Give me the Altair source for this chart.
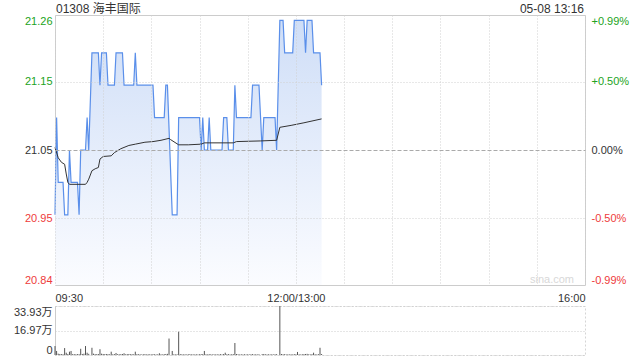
import altair as alt
import pandas as pd

# ---------------- data ----------------
title_left = "01308 海丰国际"
title_right = "05-08 13:16"
watermark = "sina.com"

base_price = 21.05
price_domain = [20.8416, 21.2584]          # base ±0.99%
price_ticks = [20.8416, 20.945, 21.05, 21.155, 21.2584]
price_tick_labels = ["20.84", "20.95", "21.05", "21.15", "21.26"]
pct_tick_labels = ["-0.99%", "-0.50%", "0.00%", "+0.50%", "+0.99%"]

time_ticks = [0, 30, 60, 90, 120, 150, 180, 210, 240, 270, 300, 330]
time_label_pos = [0, 150, 330]
time_labels = ["09:30", "12:00/13:00", "16:00"]

vol_ticks = [0, 169650, 339300]
vol_tick_labels = ["0", "16.97万", "33.93万"]

# minute index (0 = 09:30, 150 = 12:00/13:00) and last price per minute
minutes = list(range(167))
prices = [
    20.95, 21.10, 21.00, 21.00, 21.00, 21.00, 20.95, 20.95, 20.95, 21.05,
    21.00, 21.00, 21.00, 21.00, 21.00, 20.95, 21.05, 21.05, 21.05, 21.05,
    21.10, 21.05, None, 21.20, 21.20, 21.20, 21.20, 21.20, 21.15, 21.20,
    21.20, 21.20, 21.20, 21.15, 21.15, 21.15, 21.15, 21.15, 21.20, 21.20,
    21.20, 21.20, 21.20, 21.15, 21.15, 21.15, 21.15, 21.15, 21.15, 21.15,
    21.20, 21.15, 21.15, 21.15, 21.15, 21.15, 21.15, 21.15, 21.15, 21.15,
    21.15, 21.15, 21.10, 21.10, 21.10, 21.10, 21.10, 21.10, 21.10, 21.15,
    21.15, None, None, 20.95, 20.95, 20.95, 20.95, 21.10, 21.10, 21.10,
    21.10, 21.10, 21.10, 21.10, 21.10, 21.10, 21.10, 21.10, 21.10, 21.10,
    21.10, 21.05, 21.10, 21.05, 21.05, 21.05, 21.10, 21.05, 21.05, 21.05,
    21.05, 21.05, 21.05, 21.05, 21.05, 21.10, 21.10, 21.10, 21.05, 21.05,
    21.05, 21.05, 21.15, 21.10, 21.10, 21.10, 21.10, 21.10, 21.10, 21.10,
    21.10, 21.10, 21.10, 21.15, 21.15, 21.15, 21.15, 21.15, None, 21.05,
    21.10, 21.10, 21.10, 21.10, 21.10, 21.10, 21.10, 21.10, 21.05, None,
    21.25, 21.25, 21.25, 21.20, 21.20, 21.20, 21.20, 21.20, 21.20, 21.25,
    21.25, 21.25, 21.25, 21.25, 21.25, 21.25, 21.20, 21.25, 21.25, 21.25,
    21.25, 21.20, 21.20, 21.20, 21.20, 21.20, 21.15,
]

# average price line (read at turning points)
avg_minutes = [0, 2, 4, 6, 7, 8, 9, 19, 20, 21, 23, 25, 27, 28, 30, 35, 37, 41,
               46, 50, 56, 61, 66, 71, 72, 77, 83, 91, 93, 111, 113, 128, 138,
               140, 147, 155, 166]
avg_prices = [21.054, 21.038, 21.031, 21.028, 21.013, 21.000, 20.997, 20.997,
              21.000, 21.005, 21.018, 21.021, 21.023, 21.036, 21.040, 21.041,
              21.046, 21.052, 21.057, 21.059, 21.062, 21.063, 21.065, 21.068,
              21.066, 21.058, 21.058, 21.059, 21.061, 21.061, 21.063, 21.064,
              21.065, 21.085, 21.088, 21.092, 21.098]

volumes = [
    62000, 28000, 9000, 7000, 6000, 5000, 48000, 16000, 7000, 23000,
    28000, 6000, 6000, 5000, 6000, 6000, 43000, 7000, 9000, 62000,
    16000, 8000, 0, 50000, 9000, 6000, 6000, 7000, 40000, 9000,
    7000, 6000, 7000, 6000, 5000, 23000, 5000, 6000, 14000, 6000,
    5000, 6000, 7000, 12000, 5000, 6000, 7000, 5000, 6000, 5000,
    23000, 6000, 5000, 5000, 4000, 5000, 6000, 4000, 5000, 5000,
    4000, 6000, 5000, 4000, 5000, 12000, 5000, 4000, 6000, 7000,
    8000, 114000, 0, 28000, 5000, 4000, 5000, 161000, 6000, 5000,
    4000, 5000, 4000, 5000, 6000, 4000, 5000, 4000, 5000, 4000,
    5000, 6000, 6000, 28000, 5000, 4000, 6000, 5000, 4000, 5000,
    4000, 5000, 4000, 6000, 4000, 7000, 16000, 5000, 6000, 4000,
    5000, 6000, 83000, 7000, 5000, 4000, 5000, 4000, 5000, 4000,
    5000, 4000, 5000, 6000, 4000, 5000, 4000, 5000, 0, 6000,
    7000, 5000, 4000, 5000, 4000, 5000, 4000, 5000, 6000, 0,
    339300, 7000, 5000, 6000, 4000, 5000, 4000, 5000, 4000, 6000,
    5000, 21000, 5000, 4000, 5000, 6000, 7000, 8000, 5000, 4000,
    6000, 16000, 5000, 4000, 6000, 50000, 7000,
]

# ---------------- helpers ----------------
FONT = "Liberation Sans, Arial, 'Noto Sans CJK SC', sans-serif"
GREEN = "#22a322"
RED = "#ee3b3b"
DARK = "#333333"


def label_expr(vals, labels, tol):
    expr = "''"
    for v, lab in reversed(list(zip(vals, labels))):
        expr = f"abs(datum.value - {v}) < {tol} ? '{lab}' : ({expr})"
    return expr


color_cond = {
    "condition": [
        {"test": f"datum.value > {base_price + 0.01}", "value": GREEN},
        {"test": f"datum.value < {base_price - 0.01}", "value": RED},
    ],
    "value": DARK,
}

price_df = pd.DataFrame({"t": minutes, "price": prices}).dropna()
avg_df = pd.DataFrame({"t": avg_minutes, "avg": avg_prices})
vol_df = pd.DataFrame({"t": minutes, "vol": volumes})

x_scale = alt.Scale(domain=[0, 330], nice=False, zero=False)
y_scale = alt.Scale(domain=price_domain, nice=False, zero=False)

x_axis = alt.Axis(
    values=time_ticks,
    labelExpr=label_expr(time_label_pos, time_labels, 0.5),
    grid=True, gridColor="#d0d0d0", gridDash=[1, 2],
    ticks=False, domain=False, labelFlush=True, labelOverlap=False,
    labelPadding=7, title=None, zindex=1,
)

left_axis = alt.Axis(
    values=price_ticks,
    labelExpr=label_expr(price_ticks, price_tick_labels, 0.01),
    labelColor=color_cond,
    grid=True,
    gridColor={"condition": {"test": f"abs(datum.value - {base_price}) < 0.01", "value": "#aaaaaa"}, "value": "#d0d0d0"},
    gridDash={"condition": {"test": f"abs(datum.value - {base_price}) < 0.01", "value": [4, 2]}, "value": [1, 2]},
    gridOpacity={"condition": {"test": "datum.value < 20.85 || datum.value > 21.25", "value": 0}, "value": 1},
    ticks=False, domain=False, labelFlush=True, labelPadding=3,
    title=None, zindex=1, orient="left",
)

right_axis = alt.Axis(
    values=price_ticks,
    labelExpr=label_expr(price_ticks, pct_tick_labels, 0.01),
    labelColor=color_cond,
    grid=False, ticks=False, domain=False, labelFlush=True, labelPadding=6,
    title=None, orient="right",
)

gradient = alt.LinearGradient(
    gradient="linear",
    stops=[alt.GradientStop(color="#cfdef7", offset=0),
           alt.GradientStop(color="#fbfcff", offset=1)],
    x1=1, x2=1, y1=0, y2=1,
)

area = alt.Chart(price_df).mark_area(color=gradient).encode(
    x=alt.X("t:Q", scale=x_scale, axis=x_axis),
    y=alt.Y("price:Q", scale=y_scale, axis=left_axis),
    y2=alt.datum(price_domain[0]),
)
line = alt.Chart(price_df).mark_line(color="#5a8fea", strokeWidth=1.2).encode(
    x="t:Q", y=alt.Y("price:Q", axis=None),
)
avg = alt.Chart(avg_df).mark_line(color=DARK, strokeWidth=1).encode(
    x="t:Q", y=alt.Y("avg:Q", axis=None),
)
right = alt.Chart(price_df).mark_point(opacity=0).encode(
    x="t:Q", y=alt.Y("price:Q", scale=y_scale, axis=right_axis),
)

hdr_l = alt.Chart(pd.DataFrame({"s": [title_left]})).mark_text(
    align="left", baseline="middle", font=FONT, fontSize=12, color=DARK
).encode(text="s:N", x=alt.value(1), y=alt.value(-6))
hdr_r = alt.Chart(pd.DataFrame({"s": [title_right]})).mark_text(
    align="right", baseline="middle", font=FONT, fontSize=12, color=DARK
).encode(text="s:N", x=alt.value(529), y=alt.value(-6))
wm = alt.Chart(pd.DataFrame({"s": [watermark]})).mark_text(
    align="right", baseline="middle", font=FONT, fontSize=11, color="#d8d8d8"
).encode(text="s:N", x=alt.value(519), y=alt.value(265))

main = alt.layer(area, line, avg, right, hdr_l, hdr_r, wm).resolve_axis(
    y="independent"
).properties(width=530, height=270)

vol_axis = alt.Axis(
    values=vol_ticks,
    labelExpr=label_expr(vol_ticks, vol_tick_labels, 1),
    grid=True, gridColor="#cccccc", gridDash=[1, 2],
    ticks=False, domain=True, domainColor="#cccccc",
    labelFlush=True, labelPadding=3, title=None,
)

vol = alt.Chart(vol_df).mark_rule(color="#555555", strokeWidth=1).encode(
    x=alt.X("t:Q", scale=x_scale, axis=None),
    y=alt.Y("vol:Q", scale=alt.Scale(domain=[0, 339300], nice=False), axis=vol_axis),
    y2=alt.datum(0),
).properties(
    width=530, height=49,
    view=alt.ViewBackground(stroke="#d5d5d5", strokeDash=[2, 2]),
)

chart = alt.vconcat(main, vol, spacing=21, bounds="flush").properties(
    padding={"left": 12, "top": 2, "right": 5, "bottom": 0},
    background="white",
).configure_view(stroke="#cccccc").configure_axis(
    labelFont=FONT, labelFontSize=11, labelColor=DARK,
)

chart.save("out.html", embed_options={"renderer": "svg", "actions": False})
